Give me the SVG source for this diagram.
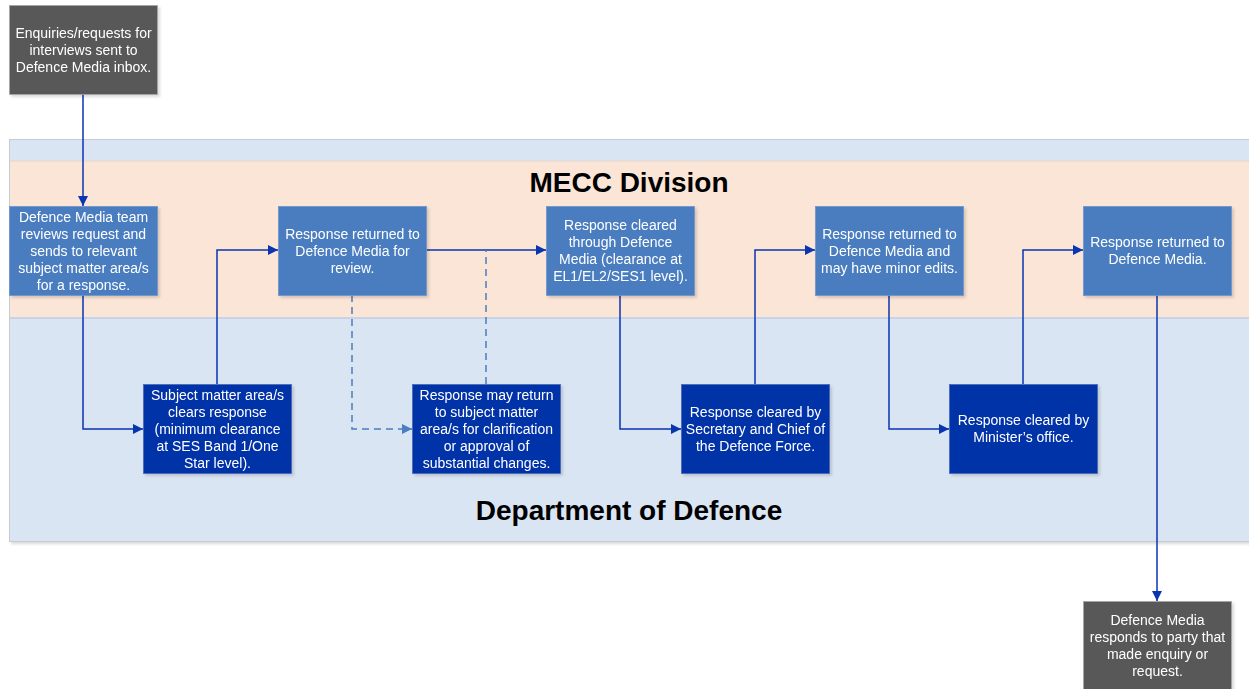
<svg xmlns="http://www.w3.org/2000/svg" width="1249" height="689" viewBox="0 0 1249 689">
<style>
.t{font-family:"Liberation Sans",Arial,sans-serif;font-size:14px;fill:#ffffff;text-anchor:middle}
.h{font-family:"Liberation Sans",Arial,sans-serif;font-size:28px;font-weight:bold;fill:#000000;text-anchor:middle}
.gray{fill:#595959;stroke:#a6a6a6;stroke-width:0.8}
.mid{fill:#487dc0;stroke:#6f95cc;stroke-width:0.8}
.dark{fill:#0030a8;stroke:#4a68b8;stroke-width:0.8}
.c{fill:none;stroke:#0a35b0;stroke-width:1.5}
.d{fill:none;stroke:#4a7ec0;stroke-width:1.5;stroke-dasharray:7,5}
</style>
<defs>
<marker id="a" viewBox="0 0 10 10" refX="10" refY="5" markerWidth="10" markerHeight="10" markerUnits="userSpaceOnUse" orient="auto"><path d="M0,0 L10,5 L0,10 z" fill="#0a35b0"/></marker>
<marker id="al" viewBox="0 0 10 10" refX="10" refY="5" markerWidth="10" markerHeight="10" markerUnits="userSpaceOnUse" orient="auto"><path d="M0,0 L10,5 L0,10 z" fill="#4a7ec0"/></marker>
<filter id="sh" x="-10%" y="-10%" width="130%" height="130%"><feDropShadow dx="2" dy="2" stdDeviation="1.5" flood-color="#000" flood-opacity="0.15"/></filter>
</defs>
<rect width="1249" height="689" fill="#ffffff"/>
<g id="pool">
<rect x="9.5" y="139.5" width="1250" height="402" fill="#dae5f3" stroke="#c5ccd6" stroke-width="1" filter="url(#sh)"/>
<rect x="10" y="161" width="1240" height="157" fill="#fbe5d6"/>
<line x1="10" y1="161" x2="1249" y2="161" stroke="#e6d5cb" stroke-width="1"/>
<line x1="10" y1="318" x2="1249" y2="318" stroke="#bccde6" stroke-width="1.5"/>
<text class="h" x="629" y="192">MECC Division</text>
<text class="h" x="629" y="520">Department of Defence</text>
</g>
<g id="connectors">
<path class="c" d="M83,94 V206" marker-end="url(#a)"/>
<path class="c" d="M83,295 V429 H143" marker-end="url(#a)"/>
<path class="c" d="M217,384 V250 H278" marker-end="url(#a)"/>
<path class="c" d="M426,250 H546" marker-end="url(#a)"/>
<path class="d" d="M352,295 V429 H412" marker-end="url(#al)"/>
<path class="d" d="M486,384 V250"/>
<path class="c" d="M620,295 V429 H681" marker-end="url(#a)"/>
<path class="c" d="M755,384 V250 H815" marker-end="url(#a)"/>
<path class="c" d="M889,295 V429 H949" marker-end="url(#a)"/>
<path class="c" d="M1023,384 V250 H1083" marker-end="url(#a)"/>
<path class="c" d="M1157,295 V601" marker-end="url(#a)"/>
</g>
<g id="start" filter="url(#sh)">
<rect class="gray" x="9.5" y="5.5" width="148" height="89"/>
<text class="t" x="83.5" y="38">Enquiries/requests for</text>
<text class="t" x="83.5" y="55">interviews sent to</text>
<text class="t" x="83.5" y="72">Defence Media inbox.</text>
</g>
<g id="n1" filter="url(#sh)">
<rect class="mid" x="9.5" y="206.5" width="148" height="89"/>
<text class="t" x="83.5" y="222">Defence Media team</text>
<text class="t" x="83.5" y="239">reviews request and</text>
<text class="t" x="83.5" y="256">sends to relevant</text>
<text class="t" x="83.5" y="273">subject matter area/s</text>
<text class="t" x="83.5" y="290">for a response.</text>
</g>
<g id="n2" filter="url(#sh)">
<rect class="mid" x="278.5" y="206.5" width="148" height="89"/>
<text class="t" x="352.5" y="239">Response returned to</text>
<text class="t" x="352.5" y="256">Defence Media for</text>
<text class="t" x="352.5" y="273">review.</text>
</g>
<g id="n3" filter="url(#sh)">
<rect class="mid" x="546.5" y="206.5" width="148" height="89"/>
<text class="t" x="620.5" y="230">Response cleared</text>
<text class="t" x="620.5" y="247">through Defence</text>
<text class="t" x="620.5" y="264">Media (clearance at</text>
<text class="t" x="620.5" y="281">EL1/EL2/SES1 level).</text>
</g>
<g id="n4" filter="url(#sh)">
<rect class="mid" x="815.5" y="206.5" width="148" height="89"/>
<text class="t" x="889.5" y="239">Response returned to</text>
<text class="t" x="889.5" y="256">Defence Media and</text>
<text class="t" x="889.5" y="273">may have minor edits.</text>
</g>
<g id="n5" filter="url(#sh)">
<rect class="mid" x="1083.5" y="206.5" width="148" height="89"/>
<text class="t" x="1157.5" y="247">Response returned to</text>
<text class="t" x="1157.5" y="264">Defence Media.</text>
</g>
<g id="b1" filter="url(#sh)">
<rect class="dark" x="143.5" y="384.5" width="148" height="89"/>
<text class="t" x="217.5" y="400">Subject matter area/s</text>
<text class="t" x="217.5" y="417">clears response</text>
<text class="t" x="217.5" y="434">(minimum clearance</text>
<text class="t" x="217.5" y="451">at SES Band 1/One</text>
<text class="t" x="217.5" y="468">Star level).</text>
</g>
<g id="b2" filter="url(#sh)">
<rect class="dark" x="412.5" y="384.5" width="148" height="89"/>
<text class="t" x="486.5" y="400">Response may return</text>
<text class="t" x="486.5" y="417">to subject matter</text>
<text class="t" x="486.5" y="434">area/s for clarification</text>
<text class="t" x="486.5" y="451">or approval of</text>
<text class="t" x="486.5" y="468">substantial changes.</text>
</g>
<g id="b3" filter="url(#sh)">
<rect class="dark" x="681.5" y="384.5" width="148" height="89"/>
<text class="t" x="755.5" y="417">Response cleared by</text>
<text class="t" x="755.5" y="434">Secretary and Chief of</text>
<text class="t" x="755.5" y="451">the Defence Force.</text>
</g>
<g id="b4" filter="url(#sh)">
<rect class="dark" x="949.5" y="384.5" width="148" height="89"/>
<text class="t" x="1023.5" y="425">Response cleared by</text>
<text class="t" x="1023.5" y="442">Minister’s office.</text>
</g>
<g id="end" filter="url(#sh)">
<rect class="gray" x="1083.5" y="601.5" width="148" height="95"/>
<text class="t" x="1157.5" y="625">Defence Media</text>
<text class="t" x="1157.5" y="642">responds to party that</text>
<text class="t" x="1157.5" y="659">made enquiry or</text>
<text class="t" x="1157.5" y="676">request.</text>
</g>
</svg>
